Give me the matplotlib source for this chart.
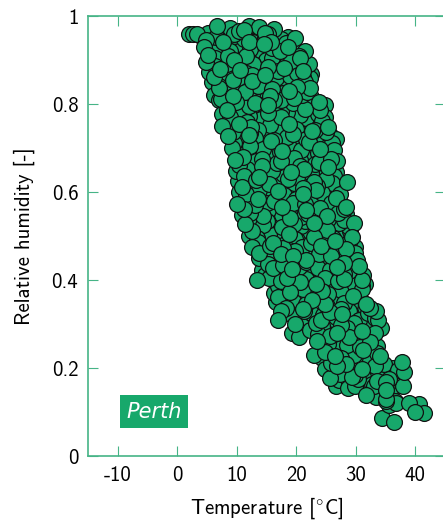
import matplotlib
matplotlib.use("Agg")
import matplotlib.pyplot as plt
import numpy as np

plt.rcParams["font.family"] = ["cmss10", "DejaVu Sans"]
plt.rcParams["axes.unicode_minus"] = False
plt.rcParams["mathtext.fontset"] = "cm"

# Daily air temperature [degC] and relative humidity [-], Perth
temperature = [
    2.0, 2.6, 3.3, 4.0, 6.6, 8.9, 10.4, 12.0, 13.7, 16.2, 11.2, 14.8,
    4.8, 6.5, 7.7, 9.6, 11.3, 12.7, 14.7, 15.8, 17.4, 18.6, 19.8,
    4.5, 6.2, 7.3, 8.8, 11.1, 12.3, 13.8, 16.0, 17.3, 18.6, 20.4, 21.5,
    4.9, 6.3, 8.3, 9.5, 11.6, 12.8, 14.9, 16.0, 18.2, 19.1, 20.7, 22.1,
    5.3, 7.2, 8.4, 10.5, 11.6, 13.8, 14.7, 16.9, 18.0, 20.1, 21.2, 22.5,
    5.8, 7.1, 9.3, 10.4, 12.6, 13.6, 15.8, 16.9, 18.4, 20.6, 21.5, 22.3,
    6.2, 8.2, 9.3, 11.4, 12.5, 14.6, 15.6, 17.8, 18.8, 20.9, 21.8, 22.4,
    7.0, 8.8, 9.8, 12.0, 13.1, 15.2, 16.2, 18.4, 19.5, 21.6, 22.5, 23.9, 24.8,
    7.5, 8.8, 11.0, 12.0, 14.2, 15.3, 17.4, 18.5, 20.6, 21.6, 23.6, 24.9,
    7.6, 9.2, 10.3, 12.4, 13.5, 15.6, 16.6, 18.8, 19.9, 22.0, 23.1, 24.5, 25.4,
    8.6, 9.9, 12.0, 13.1, 15.2, 16.3, 18.4, 19.5, 21.6, 22.7, 24.7, 25.7, 26.6,
    9.2, 11.2, 12.3, 14.4, 15.5, 17.6, 18.7, 20.8, 21.9, 24.0, 25.1, 26.3,
    9.7, 11.0, 13.2, 14.3, 16.4, 17.5, 19.6, 20.7, 22.8, 23.9, 25.9, 26.9,
    9.8, 11.7, 12.8, 14.9, 16.0, 18.1, 19.2, 21.3, 22.4, 24.5, 25.4, 26.6,
    10.2, 12.2, 13.3, 15.4, 16.5, 18.6, 19.7, 21.8, 22.9, 25.0, 26.0, 28.5,
    10.3, 11.6, 13.7, 14.8, 16.9, 18.0, 20.1, 21.2, 23.3, 24.4, 26.4, 27.3,
    10.0, 11.9, 13.0, 15.1, 16.2, 18.3, 19.4, 21.5, 22.6, 24.7, 25.8, 27.4, 28.4,
    10.9, 12.3, 14.4, 15.5, 17.6, 18.7, 20.8, 21.9, 24.0, 25.1, 27.1, 28.3,
    11.4, 13.3, 14.4, 16.5, 17.6, 19.7, 20.8, 22.9, 24.0, 26.1, 27.2, 28.9, 29.7,
    12.1, 13.4, 15.5, 16.6, 18.7, 19.8, 21.9, 23.0, 25.1, 26.2, 28.2, 29.4,
    12.6, 14.5, 15.6, 17.7, 18.8, 20.9, 22.0, 24.1, 25.2, 27.3, 28.4, 29.9,
    13.7, 15.1, 16.3, 18.4, 19.5, 21.6, 22.7, 24.8, 25.9, 28.0, 29.0, 30.2,
    14.3, 16.1, 17.2, 19.3, 20.4, 22.5, 23.6, 25.7, 26.8, 28.9, 29.9, 30.6,
    13.4, 15.4, 17.4, 18.5, 20.6, 21.7, 23.8, 24.9, 27.0, 28.1, 30.0, 31.1, 31.6,
    16.2, 17.9, 19.0, 21.1, 22.2, 24.3, 25.4, 27.5, 28.6, 30.5, 31.1,
    16.6, 18.4, 19.5, 21.6, 22.7, 24.8, 25.9, 28.0, 29.1, 30.8, 31.8,
    17.4, 19.2, 21.3, 22.4, 24.5, 25.6, 27.7, 28.8, 30.9, 32.0, 33.4,
    17.0, 19.8, 21.0, 23.3, 24.4, 26.5, 27.6, 29.7, 30.8, 32.8, 33.8,
    19.3, 20.5, 23.6, 25.7, 26.8, 28.9, 30.0, 32.1, 33.2, 34.2,
    24.2, 25.4, 27.5, 28.6, 30.7, 31.8, 33.6,
    23.0, 24.4, 26.5, 27.6, 29.7, 30.8, 32.9, 34.0,
    24.9, 26.8, 27.9, 30.0, 31.1, 33.2, 34.3, 36.2, 37.1, 38.1,
    25.6, 27.2, 29.3, 30.4, 32.5, 33.6, 35.6, 36.8, 38.0,
    26.6, 28.7, 29.8, 31.9, 33.0, 35.0, 36.2,
    31.8, 33.4, 35.0, 36.6, 35.6,
    35.0, 36.8, 39.0, 40.6, 34.4, 36.5, 40.0, 41.5,
    5.2, 9.6, 13.3, 15.2,
    5.9, 8.2, 12.1, 14.6, 18.3,
    5.2, 8.6, 11.2, 14.4, 17.1, 20.5,
    6.3, 8.7, 12.8, 15.2, 19.2, 21.3,
    6.1, 10.2, 12.5, 16.6, 18.9, 21.1,
    7.1, 9.6, 13.6, 16.0, 20.1, 22.3,
    7.4, 11.2, 13.6, 17.4, 19.6, 21.9,
    8.3, 11.1, 15.0, 17.4, 21.4, 24.0,
    8.0, 11.7, 14.1, 18.1, 20.4, 24.3,
    9.3, 12.2, 16.2, 18.6, 22.6, 25.0,
    9.6, 13.4, 15.8, 19.7, 22.2, 26.0,
    10.6, 13.2, 17.2, 19.6, 23.6, 25.8,
    10.4, 14.3, 16.7, 20.7, 23.1, 26.2,
    11.3, 13.8, 17.8, 20.2, 24.2, 26.4,
    10.8, 14.7, 17.1, 21.1, 23.5, 27.0,
    11.2, 13.6, 17.6, 20.0, 24.0, 26.6,
    11.3, 15.2, 17.6, 21.6, 24.0, 28.0,
    12.5, 15.0, 19.0, 21.4, 25.4, 28.0,
    12.6, 16.4, 18.8, 22.8, 25.2, 29.1,
    13.6, 16.1, 20.1, 22.5, 26.5, 28.9,
    13.8, 17.4, 19.8, 23.8, 26.2, 29.8,
    15.2, 17.7, 21.7, 24.1, 28.1, 30.2,
    14.8, 19.2, 21.6, 25.6, 28.0, 31.2,
    16.9, 19.4, 23.4, 25.8, 29.8, 31.0,
    17.0, 20.8, 23.2, 27.2, 29.6,
    18.3, 21.2, 25.2, 27.6, 31.6, 32.4,
    19.9, 24.2, 26.6, 30.6, 33.2,
    22.3, 24.6, 28.6, 31.0, 33.6,
    23.5, 26.0, 30.0, 32.4,
    24.9, 28.8, 31.2, 33.5,
    25.9, 28.4, 32.4, 34.8, 37.8,
    27.3, 29.8, 33.8, 36.0,
    28.9, 32.8, 35.0, 37.4,
]

relative_humidity = [
    0.958, 0.958, 0.960, 0.955, 0.978, 0.972, 0.965, 0.978, 0.975, 0.970, 0.968, 0.962,
    0.945, 0.953, 0.940, 0.955, 0.948, 0.942, 0.950, 0.940, 0.948, 0.952, 0.951,
    0.930, 0.918, 0.928, 0.920, 0.932, 0.924, 0.915, 0.928, 0.920, 0.930, 0.918, 0.920,
    0.895, 0.905, 0.890, 0.900, 0.908, 0.892, 0.900, 0.905, 0.888, 0.898, 0.905, 0.890,
    0.872, 0.880, 0.868, 0.878, 0.870, 0.882, 0.865, 0.876, 0.882, 0.870, 0.875, 0.868,
    0.850, 0.842, 0.855, 0.845, 0.852, 0.840, 0.856, 0.847, 0.853, 0.842, 0.851, 0.858,
    0.820, 0.830, 0.818, 0.828, 0.822, 0.832, 0.818, 0.826, 0.830, 0.820, 0.828, 0.815,
    0.808, 0.798, 0.805, 0.795, 0.803, 0.798, 0.808, 0.795, 0.802, 0.810, 0.796, 0.805, 0.798,
    0.778, 0.770, 0.780, 0.772, 0.768, 0.779, 0.771, 0.782, 0.774, 0.768, 0.778, 0.770,
    0.750, 0.745, 0.755, 0.748, 0.742, 0.752, 0.746, 0.754, 0.744, 0.750, 0.742, 0.752, 0.748,
    0.728, 0.720, 0.730, 0.722, 0.728, 0.718, 0.726, 0.732, 0.720, 0.728, 0.720, 0.730, 0.720,
    0.700, 0.695, 0.705, 0.698, 0.704, 0.694, 0.702, 0.696, 0.706, 0.698, 0.703, 0.695,
    0.672, 0.680, 0.670, 0.676, 0.682, 0.670, 0.678, 0.672, 0.680, 0.668, 0.676, 0.670,
    0.648, 0.652, 0.645, 0.655, 0.648, 0.654, 0.645, 0.652, 0.644, 0.650, 0.656, 0.645,
    0.625, 0.620, 0.628, 0.618, 0.626, 0.630, 0.620, 0.628, 0.622, 0.630, 0.620, 0.622,
    0.600, 0.595, 0.604, 0.598, 0.603, 0.594, 0.602, 0.596, 0.605, 0.598, 0.602, 0.596,
    0.572, 0.578, 0.570, 0.576, 0.580, 0.570, 0.576, 0.572, 0.578, 0.570, 0.576, 0.572, 0.565,
    0.548, 0.552, 0.545, 0.554, 0.548, 0.552, 0.544, 0.550, 0.555, 0.546, 0.552, 0.550,
    0.528, 0.520, 0.526, 0.530, 0.520, 0.528, 0.522, 0.530, 0.520, 0.526, 0.530, 0.520, 0.530,
    0.500, 0.495, 0.504, 0.498, 0.505, 0.494, 0.502, 0.497, 0.504, 0.496, 0.502, 0.498,
    0.475, 0.470, 0.478, 0.472, 0.468, 0.476, 0.470, 0.478, 0.472, 0.476, 0.470, 0.475,
    0.450, 0.445, 0.452, 0.446, 0.454, 0.445, 0.452, 0.448, 0.455, 0.446, 0.452, 0.445,
    0.422, 0.428, 0.420, 0.426, 0.430, 0.420, 0.428, 0.422, 0.430, 0.420, 0.425, 0.432,
    0.400, 0.405, 0.398, 0.404, 0.396, 0.402, 0.395, 0.404, 0.398, 0.402, 0.396, 0.400, 0.392,
    0.370, 0.378, 0.372, 0.380, 0.370, 0.376, 0.368, 0.378, 0.372, 0.376, 0.380,
    0.350, 0.345, 0.352, 0.346, 0.354, 0.345, 0.352, 0.348, 0.344, 0.352, 0.345,
    0.330, 0.322, 0.330, 0.324, 0.320, 0.328, 0.322, 0.330, 0.320, 0.326, 0.330,
    0.310, 0.300, 0.295, 0.302, 0.296, 0.304, 0.298, 0.302, 0.296, 0.305, 0.310,
    0.280, 0.270, 0.278, 0.272, 0.280, 0.270, 0.278, 0.272, 0.280, 0.290,
    0.250, 0.255, 0.246, 0.252, 0.248, 0.255, 0.250,
    0.230, 0.222, 0.228, 0.222, 0.230, 0.224, 0.220, 0.228,
    0.198, 0.205, 0.196, 0.202, 0.198, 0.205, 0.196, 0.200, 0.195, 0.190,
    0.178, 0.172, 0.180, 0.174, 0.178, 0.170, 0.176, 0.172, 0.160,
    0.160, 0.155, 0.160, 0.152, 0.158, 0.150, 0.160,
    0.138, 0.135, 0.130, 0.125, 0.115,
    0.125, 0.120, 0.120, 0.118, 0.086, 0.077, 0.100, 0.098,
    0.962, 0.958, 0.965, 0.960,
    0.937, 0.934, 0.940, 0.936, 0.938,
    0.912, 0.910, 0.915, 0.909, 0.913, 0.910,
    0.887, 0.885, 0.890, 0.884, 0.888, 0.886,
    0.862, 0.860, 0.865, 0.859, 0.863, 0.861,
    0.837, 0.835, 0.840, 0.834, 0.838, 0.836,
    0.812, 0.810, 0.815, 0.809, 0.813, 0.811,
    0.787, 0.785, 0.790, 0.784, 0.788, 0.786,
    0.762, 0.760, 0.765, 0.759, 0.763, 0.761,
    0.737, 0.735, 0.740, 0.734, 0.738, 0.736,
    0.712, 0.710, 0.715, 0.709, 0.713, 0.711,
    0.687, 0.685, 0.690, 0.684, 0.688, 0.686,
    0.662, 0.660, 0.665, 0.659, 0.663, 0.661,
    0.637, 0.635, 0.640, 0.634, 0.638, 0.636,
    0.612, 0.610, 0.615, 0.609, 0.613, 0.611,
    0.587, 0.585, 0.590, 0.584, 0.588, 0.586,
    0.562, 0.560, 0.565, 0.559, 0.563, 0.561,
    0.537, 0.535, 0.540, 0.534, 0.538, 0.536,
    0.512, 0.510, 0.515, 0.509, 0.513, 0.511,
    0.487, 0.485, 0.490, 0.484, 0.488, 0.486,
    0.462, 0.460, 0.465, 0.459, 0.463, 0.461,
    0.437, 0.435, 0.440, 0.434, 0.438, 0.436,
    0.412, 0.410, 0.415, 0.409, 0.413, 0.411,
    0.387, 0.385, 0.390, 0.384, 0.388, 0.386,
    0.362, 0.360, 0.365, 0.359, 0.363,
    0.337, 0.335, 0.340, 0.334, 0.338, 0.336,
    0.312, 0.310, 0.315, 0.309, 0.313,
    0.287, 0.285, 0.290, 0.284, 0.288,
    0.262, 0.260, 0.265, 0.259,
    0.237, 0.235, 0.240, 0.234,
    0.212, 0.210, 0.215, 0.209, 0.213,
    0.187, 0.185, 0.190, 0.184,
    0.165, 0.163, 0.168, 0.162,
]

x_ticks = [-10, 0, 10, 20, 30, 40]
y_ticks = [0, 0.2, 0.4, 0.6, 0.8, 1]
y_tick_labels = ["0", "0.2", "0.4", "0.6", "0.8", "1"]
city = "Perth"

marker_green = "#17a86b"
frame_green = "#46b486"

t = np.asarray(temperature)
rh = np.asarray(relative_humidity)
# interleave the drawing order so no row of markers sits on top of the rest
order = np.argsort((t * 7.31 + rh * 53.7) % 1.0, kind="stable")

fig = plt.figure(figsize=(4.43, 5.24), dpi=100)
ax = fig.add_axes([88 / 443, 68 / 524, 357 / 443, 440 / 524])

ax.scatter(t[order], rh[order], s=130, c=marker_green,
           edgecolors="#111111", linewidths=0.9, zorder=3)

ax.set_xlim(-15, 45)
ax.set_ylim(0, 1)
ax.set_xticks(x_ticks)
ax.set_xticklabels([str(v) for v in x_ticks])
ax.set_yticks(y_ticks)
ax.set_yticklabels(y_tick_labels)

for side in ax.spines.values():
    side.set_color(frame_green)
    side.set_linewidth(1.2)

ax.tick_params(axis="both", which="both", direction="in", length=7.5,
               width=0.8, color=frame_green, labelsize=15, labelcolor="black",
               top=True, right=True, pad=7)

ax.set_xlabel(r"Temperature [$^{\circ}$C]", fontsize=15, labelpad=8)
ax.set_ylabel("Relative humidity [-]", fontsize=15, labelpad=12)

ax.text(-8.6, 0.078, city, fontsize=15, style="italic", color="white",
        family=["DejaVu Sans"], ha="left", va="bottom", zorder=4,
        bbox=dict(boxstyle="square,pad=0.3", facecolor=marker_green,
                  edgecolor="none"))

fig.savefig("out.png", dpi=100)
